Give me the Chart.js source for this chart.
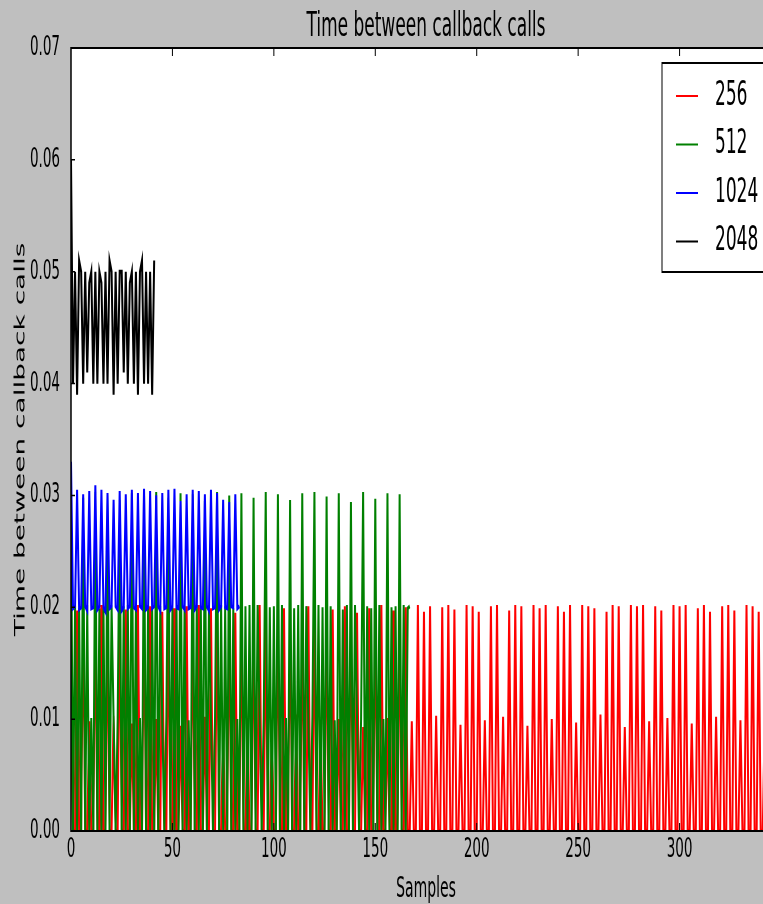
<!DOCTYPE html>
<html>
<head>
<meta charset="utf-8">
<script src="https://cdn.jsdelivr.net/npm/chart.js@4.4.1/dist/chart.umd.min.js"></script>
<style>
  body { margin: 0; background: #bfbfbf; }
  #wrap { width: 763px; height: 904px; overflow: hidden; position: relative; }
  /* the reference is squeezed horizontally, so draw wide and scale down */
  #squeeze { width: 1562px; height: 904px; transform: scaleX(0.5); transform-origin: 0 0; }
</style>
</head>
<body>
<div id="wrap"><div id="squeeze"><canvas id="chart" width="1562" height="904"></canvas></div></div>
<script>
const seriesLabels = ['256', '512', '1024', '2048'];
const seriesColors = ['#ff0000', '#008000', '#0000ff', '#000000'];
const xTicks = [0, 50, 100, 150, 200, 250, 300];
const yTicks = [0, 0.01, 0.02, 0.03, 0.04, 0.05, 0.06, 0.07];

const buf256 = [
  0.0201,0,0, 0.0197,0,0, 0.0202,0,0, 0.0098,0,0,
  0.0199,0,0, 0.0202,0,0, 0.0195,0,0, 0.0103,0,0,
  0.0201,0,0, 0.0198,0,0, 0.0096,0,0,
  0.0202,0,0, 0.0199,0,0, 0.0201,0,0, 0.0100,0,0,
  0.0196,0,0, 0.0202,0,0, 0.0199,0,0, 0.0094,0,0,
  0.0201,0,0, 0.0197,0,0, 0.0202,0,0, 0.0102,0,0,
  0.0199,0,0, 0.0201,0,0, 0.0098,0,0,
  0.0202,0,0, 0.0195,0,0, 0.0201,0,0, 0.0101,0,0,
  0.0199,0,0, 0.0202,0,0, 0.0197,0,0, 0.0095,0,0,
  0.0201,0,0, 0.0199,0,0, 0.0202,0,0, 0.0104,0,0,
  0.0196,0,0, 0.0201,0,0, 0.0199,0,0, 0.0097,0,0,
  0.0202,0,0, 0.0198,0,0, 0.0100,0,0,
  0.0201,0,0, 0.0202,0,0, 0.0195,0,0, 0.0093,0,0,
  0.0199,0,0, 0.0201,0,0, 0.0202,0,0, 0.0101,0,0,
  0.0197,0,0, 0.0202,0,0, 0.0200,0,0, 0.0098,0,0,
  0.0202,0,0, 0.0196,0,0, 0.0201,0,0, 0.0103,0,0,
  0.0200,0,0, 0.0202,0,0, 0.0198,0,0, 0.0095,0,0,
  0.0202,0,0, 0.0201,0,0, 0.0196,0,0, 0.0099,0,0,
  0.0201,0,0, 0.0202,0,0, 0.0102,0,0,
  0.0197,0,0, 0.0202,0,0, 0.0201,0,0, 0.0094,0,0,
  0.0202,0,0, 0.0199,0,0, 0.0202,0,0, 0.0100,0,0,
  0.0201,0,0, 0.0196,0,0, 0.0202,0,0, 0.0097,0,0,
  0.0202,0,0, 0.0201,0,0, 0.0199,0,0, 0.0104,0,0,
  0.0196,0,0, 0.0202,0,0, 0.0201,0,0, 0.0093,0,0,
  0.0202,0,0, 0.0201,0,0, 0.0202,0,0, 0.0098,0,0,
  0.0201,0,0, 0.0197,0,0, 0.0101,0,0,
  0.0202,0,0, 0.0201,0,0, 0.0202,0,0, 0.0096,0,0,
  0.0199,0,0, 0.0202,0,0, 0.0196,0,0, 0.0102,0,0,
  0.0201,0,0, 0.0202,0,0, 0.0197,0,0, 0.0099,0,0,
  0.0202,0,0, 0.0201,0,0, 0.0196,0,0, 0.0100,0,0
];

const buf512 = [
  0.0302,0,0.0201,0,0.0199,0,
  0.0298,0,0.0202,0,0.0101,0,
  0.0303,0,0.0199,0,0.0201,0,
  0.0301,0,0.0202,0.0100,0,0.0099,
  0.0296,0,0.0201,0,0.0202,0,
  0.0302,0,0.0199,0,0.0101,0,
  0.0300,0,0.0202,0,0.0200,0,
  0.0303,0,0.0201,0.0098,0,0.0101,
  0.0298,0,0.0200,0,0.0202,0,
  0.0302,0,0.0201,0,0.0099,0,
  0.0301,0,0.0202,0,0.0199,0,
  0.0295,0,0.0198,0.0101,0,0.0102,
  0.0303,0,0.0202,0,0.0201,0,
  0.0300,0,0.0199,0,0.0100,0,
  0.0302,0,0.0201,0,0.0202,0,
  0.0298,0,0.0202,0.0099,0,0.0101,
  0.0303,0,0.0200,0,0.0201,0,
  0.0301,0,0.0202,0,0.0101,0,
  0.0296,0,0.0199,0,0.0202,0,
  0.0302,0,0.0201,0.0100,0,0.0102,
  0.0303,0,0.0202,0,0.0200,0,
  0.0299,0,0.0201,0,0.0099,0,
  0.0302,0,0.0198,0,0.0202,0,
  0.0294,0,0.0202,0.0101,0,0.0100,
  0.0303,0,0.0201,0,0.0199,0,
  0.0297,0,0.0202,0,0.0100,0,
  0.0302,0,0.0200,0,0.0201,0,
  0.0301,0,0.0202,0,0.0199,0.0201
];

const buf1024 = [
  0.0330,0.0199,0.0201, 0.0305,0.0198,0.0200, 0.0301,0.0201,0.0197, 0.0304,0.0199,0.0200,
  0.0309,0.0198,0.0201, 0.0305,0.0200,0.0196, 0.0302,0.0199,0.0201, 0.0296,0.0201,0.0198,
  0.0304,0.0197,0.0200, 0.0301,0.0199,0.0201, 0.0305,0.0200,0.0198, 0.0302,0.0201,0.0199,
  0.0306,0.0198,0.0200, 0.0304,0.0199,0.0201, 0.0300,0.0201,0.0197, 0.0302,0.0199,0.0200,
  0.0305,0.0198,0.0201, 0.0306,0.0200,0.0199, 0.0295,0.0201,0.0198, 0.0301,0.0199,0.0200,
  0.0305,0.0198,0.0201, 0.0304,0.0200,0.0199, 0.0301,0.0201,0.0197, 0.0305,0.0199,0.0200,
  0.0302,0.0198,0.0201, 0.0296,0.0200,0.0199, 0.0294,0.0201,0.0200, 0.0301,0.0199,0.0201
];

const buf2048 = [
  0.060, 0.040, 0.050, 0.039, 0.051, 0.050, 0.040, 0.050, 0.041, 0.049,
  0.050, 0.040, 0.050, 0.040, 0.050, 0.049, 0.040, 0.050, 0.040, 0.051,
  0.050, 0.039, 0.050, 0.040, 0.050, 0.050, 0.041, 0.050, 0.040, 0.049,
  0.050, 0.040, 0.050, 0.039, 0.050, 0.051, 0.040, 0.050, 0.040, 0.050,
  0.039, 0.051
];

const FONT = "'DejaVu Sans', sans-serif";
Chart.defaults.color = '#000';
Chart.defaults.font.family = FONT;

function toPoints(values) {
  return values.map((v, i) => ({ x: i, y: v }));
}

const allSeries = [buf256, buf512, buf1024, buf2048];

// matplotlib style frame: white axes, spines on top of the data, ticks pointing inward
const framePlugin = {
  id: 'frame',
  beforeDraw(chart) {
    const { ctx, chartArea: a } = chart;
    ctx.save();
    ctx.fillStyle = '#fff';
    ctx.fillRect(a.left, a.top, a.right - a.left, a.bottom - a.top);
    ctx.restore();
  },
  afterDatasetsDraw(chart) {
    const { ctx, chartArea: a, scales: { x, y } } = chart;
    ctx.save();
    ctx.strokeStyle = '#000';
    ctx.lineWidth = 2;
    ctx.beginPath();
    x.ticks.forEach(t => {
      const px = x.getPixelForValue(t.value);
      ctx.moveTo(px, a.bottom); ctx.lineTo(px, a.bottom - 8);
      ctx.moveTo(px, a.top); ctx.lineTo(px, a.top + 8);
    });
    ctx.stroke();
    ctx.lineWidth = 1.5;
    ctx.beginPath();
    y.ticks.forEach(t => {
      const py = y.getPixelForValue(t.value);
      ctx.moveTo(a.left, py); ctx.lineTo(a.left + 8, py);
    });
    ctx.stroke();
    ctx.lineWidth = 2;
    ctx.beginPath();
    ctx.moveTo(a.left, a.top); ctx.lineTo(a.right, a.top);
    ctx.moveTo(a.left, a.bottom); ctx.lineTo(a.right, a.bottom);
    ctx.stroke();
    ctx.lineWidth = 3;
    ctx.beginPath();
    ctx.moveTo(a.left, a.top - 1); ctx.lineTo(a.left, a.bottom + 1);
    ctx.stroke();
    ctx.restore();
  },
  afterDraw(chart) {
    // legend box in the upper right corner, partly cut by the right edge like the picture
    const { ctx, chartArea: a } = chart;
    const box = { left: 1324, top: a.top + 15, right: 1550, bottom: a.top + 224 };
    ctx.save();
    ctx.fillStyle = '#fff';
    ctx.fillRect(box.left, box.top, box.right - box.left, box.bottom - box.top);
    ctx.strokeStyle = '#000';
    ctx.lineWidth = 2;
    ctx.strokeRect(box.left, box.top, box.right - box.left, box.bottom - box.top);
    ctx.font = '34px ' + FONT;
    ctx.textBaseline = 'middle';
    ctx.textAlign = 'left';
    chart.data.datasets.forEach((ds, i) => {
      const rowY = box.top + 33 + i * 48.5;
      ctx.strokeStyle = ds.borderColor;
      ctx.lineWidth = 2;
      ctx.beginPath();
      ctx.moveTo(box.left + 28, rowY); ctx.lineTo(box.left + 72, rowY);
      ctx.stroke();
      ctx.fillStyle = '#000';
      ctx.fillText(ds.label, box.left + 106, rowY);
    });
    ctx.restore();
  }
};

const ctx = document.getElementById('chart').getContext('2d');
new Chart(ctx, {
  type: 'line',
  data: {
    datasets: allSeries.map((vals, i) => ({
      label: seriesLabels[i],
      data: toPoints(vals),
      borderColor: seriesColors[i],
      backgroundColor: seriesColors[i],
      borderWidth: 4,
      pointRadius: 0,
      tension: 0,
      fill: false,
      order: allSeries.length - i
    }))
  },
  options: {
    responsive: false,
    animation: false,
    devicePixelRatio: 1,
    layout: { padding: 0 },
    plugins: {
      legend: { display: false },
      tooltip: { enabled: false },
      title: {
        display: true,
        text: 'Time between callback calls',
        fullSize: false,
        color: '#000',
        font: { family: FONT, size: 34, weight: 'normal', lineHeight: 1 },
        padding: { top: 10, bottom: 4 }
      }
    },
    scales: {
      x: {
        type: 'linear',
        min: 0,
        max: 350,
        grid: { display: false, drawTicks: false },
        border: { display: false },
        afterBuildTicks: s => { s.ticks = xTicks.map(v => ({ value: v })); },
        afterFit: s => { s.height = 73; s.paddingLeft = 0; s.paddingRight = 0; },
        ticks: { font: { size: 27 }, color: '#000', padding: 3, maxRotation: 0, autoSkip: false },
        title: { display: true, text: 'Samples', color: '#000', font: { size: 28, lineHeight: 1 }, padding: { top: 0, bottom: 0 } }
      },
      y: {
        min: 0,
        max: 0.07,
        grid: { display: false, drawTicks: false },
        border: { display: false },
        afterBuildTicks: s => { s.ticks = yTicks.map(v => ({ value: v })); },
        afterFit: s => { s.width = 142; s.paddingTop = 0; s.paddingBottom = 0; },
        ticks: { font: { size: 27 }, color: '#000', padding: 22, autoSkip: false, callback: v => Number(v).toFixed(2) },
        title: { display: true, text: 'Time between callback calls', color: '#000', font: { size: 28, lineHeight: 1 }, padding: { top: 28, bottom: 0 } }
      }
    }
  },
  plugins: [framePlugin]
});
</script>
</body>
</html>
